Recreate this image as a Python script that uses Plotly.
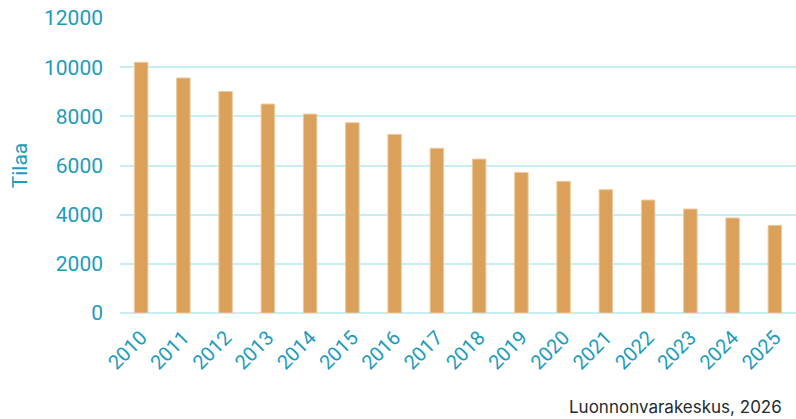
import plotly.graph_objects as go

years = [str(y) for y in range(2010, 2026)]
farms = [10200, 9560, 9010, 8500, 8090, 7740, 7265, 6700, 6260,
         5720, 5355, 5015, 4595, 4230, 3865, 3565]

TEAL = '#1b9cbd'
BAR = '#dba15a'
GRID = '#c6eef6'

fig = go.Figure(go.Bar(
    x=years, y=farms,
    marker=dict(color=BAR, line=dict(color='#eccb9f', width=1)),
    hoverinfo='x+y'
))

fig.update_layout(
    width=796, height=419,
    margin=dict(l=120, r=0, t=18, b=106, autoexpand=False),
    plot_bgcolor='white', paper_bgcolor='white',
    bargap=0.68,
    showlegend=False,
    font=dict(family='Roboto, Arial, sans-serif', color=TEAL),
    xaxis=dict(
        tickangle=-45, tickfont=dict(size=20, color=TEAL),
        ticklabelstandoff=8,
        showgrid=False, showline=False, ticks='', automargin=False,
    ),
    yaxis=dict(
        range=[0, 12000], dtick=2000, tickformat='d',
        tickfont=dict(size=21, color=TEAL), ticklabelstandoff=16,
        showgrid=True, gridcolor=GRID, gridwidth=2,
        zeroline=True, zerolinecolor=GRID, zerolinewidth=2,
        showline=False, ticks='', automargin=False,
        title=dict(text='Tilaa', font=dict(size=21, color=TEAL), standoff=10),
    ),
    annotations=[dict(
        text='Luonnonvarakeskus, 2026', xref='paper', yref='paper',
        x=0.982, y=-0.32, xanchor='right', yanchor='middle',
        showarrow=False, font=dict(family='Inter, Roboto, sans-serif',
                                   size=17, color='#222b2e')
    )]
)

# drop the browser's default body margin so the figure sits at 0,0
fig.write_html("out.html", config={'displayModeBar': False},
               post_script="document.body.style.margin='0px';")
